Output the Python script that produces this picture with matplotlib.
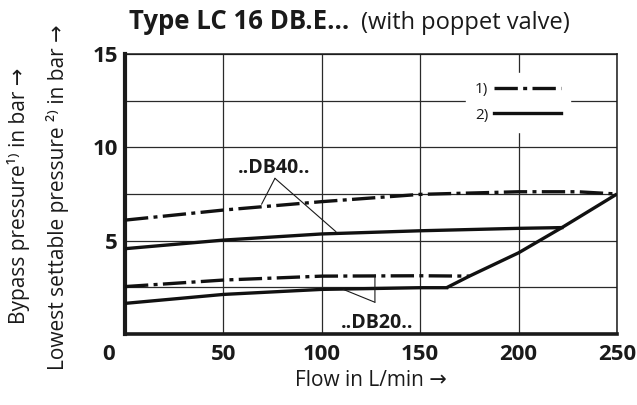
import matplotlib
matplotlib.use("Agg")
import matplotlib.pyplot as plt
from matplotlib.lines import Line2D

plt.rcParams['font.family'] = ['Open Sans', 'DejaVu Sans']

# ..DB40.. bypass pressure 1) (dash-dot)
db40_bypass_flow = [0, 50, 100, 150, 200, 230, 250]
db40_bypass_p = [6.1, 6.64, 7.09, 7.48, 7.62, 7.62, 7.5]
# ..DB40.. lowest settable pressure 2) (solid)
db40_min_flow = [0, 50, 100, 150, 200, 222]
db40_min_p = [4.57, 5.03, 5.36, 5.53, 5.66, 5.7]
# ..DB20.. bypass pressure 1)
db20_bypass_flow = [0, 50, 100, 150, 175]
db20_bypass_p = [2.54, 2.89, 3.1, 3.12, 3.1]
# ..DB20.. lowest settable pressure 2)
db20_min_flow = [0, 50, 100, 150, 163.4]
db20_min_p = [1.64, 2.12, 2.39, 2.48, 2.48]
# flow limit curve
limit_flow = [163.4, 175, 190, 200, 222, 250]
limit_p = [2.48, 3.1, 3.85, 4.35, 5.7, 7.5]

x_ticks = [0, 50, 100, 150, 200, 250]
x_labels = ["", "50", "100", "150", "200", "250"]
y_ticks = [0, 2.5, 5, 7.5, 10, 12.5, 15]
y_labels = ["", "", "5", "", "10", "", "15"]

# leader lines: label, label position, apex, curve points
db40_label = ("..DB40..", (75.7, 8.87), (76.2, 8.34), [(69.4, 6.95), (107.2, 5.48)])
db20_label = ("..DB20..", (127.9, 0.6), (127, 1.7), [(127, 3.16), (110.9, 2.39)])

fig = plt.figure(figsize=(6.37, 4.05), dpi=100)
ax = fig.add_axes([0.1962, 0.1753, 0.7724, 0.6914])

dashdot = (0, (7, 1.6, 1.2, 1.6))
lw = 2.4
ax.plot(db40_bypass_flow, db40_bypass_p, color="#111111", lw=lw, ls=dashdot, zorder=3)
ax.plot(db40_min_flow, db40_min_p, color="#111111", lw=lw, zorder=3)
ax.plot(db20_bypass_flow, db20_bypass_p, color="#111111", lw=lw, ls=dashdot, zorder=3)
ax.plot(db20_min_flow, db20_min_p, color="#111111", lw=lw, zorder=3)
ax.plot(limit_flow, limit_p, color="#111111", lw=lw, zorder=3, solid_capstyle="butt")

for text, pos, apex, ends in [db40_label, db20_label]:
    ax.text(pos[0], pos[1], text, ha="center", va="center",
            fontsize=14, fontweight="bold", color="#1a1a1a")
    for e in ends:
        ax.annotate("", xy=e, xytext=apex,
                    arrowprops=dict(arrowstyle="-", lw=0.8, color="#1a1a1a",
                                    shrinkA=0, shrinkB=0))

ax.set_xlim(0, 250)
ax.set_ylim(0, 15)
ax.set_xticks(x_ticks)
ax.set_xticklabels(x_labels)
ax.set_yticks(y_ticks)
ax.set_yticklabels(y_labels)
ax.tick_params(length=0, labelsize=16, colors="#1a1a1a")
ax.tick_params(axis="x", pad=7)
ax.tick_params(axis="y", pad=5)
for lab in ax.get_xticklabels() + ax.get_yticklabels():
    lab.set_fontweight("bold")
ax.grid(True, color="#2a2a2a", lw=0.9)
ax.set_axisbelow(True)

ax.annotate("0", xy=(0, 0), xytext=(-11.5, -15), textcoords="offset points",
            ha="center", va="center", fontsize=16, fontweight="bold", color="#1a1a1a")

for side, w in [("left", 3.0), ("bottom", 2.6), ("top", 1.1), ("right", 1.1)]:
    ax.spines[side].set_linewidth(w)
    ax.spines[side].set_color("#1a1a1a")

handles = [Line2D([], [], color="#111111", lw=lw, ls=dashdot),
           Line2D([], [], color="#111111", lw=lw)]
leg = ax.legend(handles, ["1)", "2)"], loc="center", bbox_to_anchor=(0.7985, 0.827),
                markerfirst=False, fontsize=11, handlelength=4.4, handletextpad=0.35,
                borderpad=0.6, labelspacing=0.7, borderaxespad=0,
                frameon=True, fancybox=False, framealpha=1,
                facecolor="white", edgecolor="white")
for t in leg.get_texts():
    t.set_color("#1a1a1a")

ax.set_xlabel("Flow in L/min →", fontsize=15, color="#1a1a1a", labelpad=4)

fig.text(19 / 637, 1 - 196 / 405, "Bypass pressure¹⁾ in bar →", rotation=90,
         ha="center", va="center", fontsize=15, color="#1a1a1a")
fig.text(58 / 637, 1 - 197 / 405, "Lowest settable pressure ²⁾ in bar →", rotation=90,
         ha="center", va="center", fontsize=15, color="#1a1a1a")

t1 = fig.text(129 / 637, 376 / 405, "Type LC 16 DB.E…", fontsize=18.5,
              fontweight="bold", color="#1a1a1a", ha="left", va="baseline")
fig.canvas.draw()
bb = t1.get_window_extent()
fig.text((bb.x1 + 12) / 637, 376 / 405, "(with poppet valve)", fontsize=17,
         color="#1a1a1a", ha="left", va="baseline")

fig.savefig("out.png", dpi=100)
